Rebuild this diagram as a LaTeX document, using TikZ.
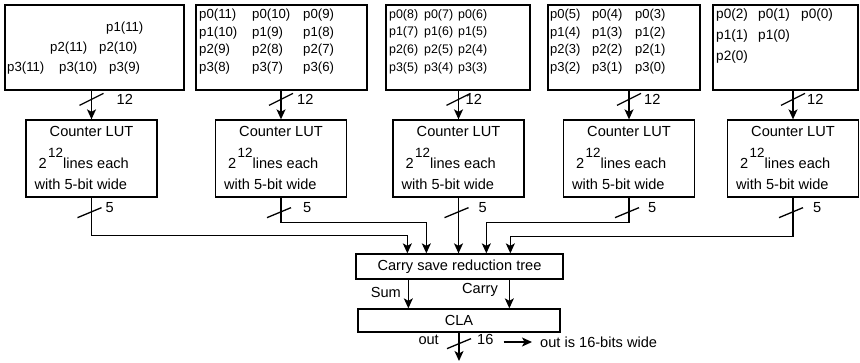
\documentclass[tikz,border=0pt]{standalone}
\usepackage{fontspec}
\setmainfont{Liberation Sans}
\usetikzlibrary{arrows.meta,calc}
\begin{document}
\begin{tikzpicture}[x=1pt,y=-1pt,
  box/.style={draw,line width=1.3pt,inner sep=0pt},
  ln/.style={line width=1.3pt},
  arr/.style={line width=1.3pt,-{Stealth[length=10pt,width=9pt,inset=2.5pt]}},
  ptxt/.style={inner sep=0pt,anchor=west,font=\fontsize{13.2}{15}\selectfont},
  txt/.style={inner sep=0pt,font=\fontsize{14.6}{17}\selectfont},
]
\useasboundingbox (0,0) rectangle (860,362);
% top boxes
\node[box,minimum width=179pt,minimum height=85pt] (b1) at (94.5,47.5) {};
\node[box,minimum width=171pt,minimum height=85pt] (b2) at (281.5,47.5) {};
\node[box,minimum width=144pt,minimum height=85pt] (b3) at (458,47.5) {};
\node[box,minimum width=152pt,minimum height=85pt] (b4) at (624,47.5) {};
\node[box,minimum width=145pt,minimum height=85pt] (b5) at (785.5,47.5) {};
% box 1 contents
\foreach \x/\y/\t [count=\k] in {106/28/p1(11), 50/48/p2(11), 99/48/p2(10), 7/68/p3(11), 59/68/p3(10), 109/68/p3(9)}
  \node[ptxt] (pa\k) at (\x,\y) {\t};
% boxes 2-5 contents
\foreach \b/\s/\xa/\xb/\xc/\dy/\fs in {2/11/199/252/303/17.7/13.2, 3/8/389/424/458/17.7/12.4, 4/5/550/592/635/17.7/13, 5/2/716/758/801/21/13.6} {
  \foreach \r in {0,1,2,3} {
    \foreach \c/\x in {0/\xa,1/\xb,2/\xc} {
      \pgfmathtruncatemacro{\n}{\s-\r-\c}
      \ifnum\n<0\relax\else
        \node[ptxt,font=\fontsize{\fs}{15}\selectfont] (p\b-\r-\c) at (\x,{15+\r*\dy}) {p\r(\n)};
      \fi
    }
  }
}
% LUTs
\foreach \i/\cx/\ta/\tb in {1/91.5/25/14, 2/281/16/22, 3/458.5/7/20, 4/629/15/19, 5/793/14/20} {
  \node[box,minimum width=131pt,minimum height=77pt] (l\i) at (\cx,158.5) {};
  \node[txt,anchor=base] (la\i) at ([yshift=-17pt]l\i.north) {Counter LUT};
  \node[txt,anchor=base west] (lb\i) at ([shift={(13pt,-49pt)}]l\i.north west)
    {2\hspace{1.5pt}\raisebox{11pt}{\fontsize{13.4}{15}\selectfont 12}lines each};
  \node[txt,anchor=base west] (lc\i) at ([shift={(9pt,-70pt)}]l\i.north west) {with 5-bit wide};
  \draw[arr] (l\i.north |- b\i.south) -- (l\i.north);
  \draw[ln] ([shift={(-12pt,14pt)}]l\i.north) -- ++(24pt,12pt);
  \node[txt,anchor=west] (t\i) at ([shift={(\ta pt,20pt)}]l\i.north) {12};
  \draw[ln] ([shift={(-14pt,-20pt)}]l\i.south) -- ++(24pt,10pt);
  \node[txt,anchor=west] (f\i) at ([shift={(\tb pt,-10pt)}]l\i.south) {5};
}
% carry save tree and CLA
\node[box,txt,minimum width=207pt,minimum height=25pt] (csr) at (459.5,266.5) {Carry save reduction tree};
\node[box,txt,minimum width=202pt,minimum height=23pt] (cla) at (459,320.5) {CLA};
\draw[arr] (l1.south) -- ++(0,38) -| ([xshift=52pt]csr.north west);
\draw[arr] (l2.south) -- ++(0,25) -| ([xshift=71pt]csr.north west);
\draw[arr] (l3.south) -- (l3.south |- csr.north);
\draw[arr] (l4.south) -- ++(0,25) -| ([xshift=131pt]csr.north west);
\draw[arr] (l5.south) -- ++(0,39) -| ([xshift=155pt]csr.north west);
\draw[arr] ([xshift=53pt]csr.south west) -- ([xshift=53pt]csr.south west |- cla.north);
\draw[arr] ([xshift=154pt]csr.south west) -- ([xshift=154pt]csr.south west |- cla.north);
\node[txt,anchor=east] (sum) at (401,292) {Sum};
\node[txt,anchor=west] (carry) at (462,290) {Carry};
% output
\coordinate (outend) at (459,361);
\draw[arr] (cla.south) -- (outend);
\draw[ln] ([shift={(-12pt,-16pt)}]cla.south) -- ++(24pt,10pt);
\node[txt,anchor=east] (outl) at (439,340) {out};
\node[txt,anchor=west] (n16) at (477,339) {16};
\node[txt,anchor=west] (outtxt) at (540,342) {out is 16-bits wide};
\draw[arr,shorten >=8pt] ([xshift=10pt]outtxt.west -| n16.east) -- (outtxt.west);
\end{tikzpicture}
\end{document}
